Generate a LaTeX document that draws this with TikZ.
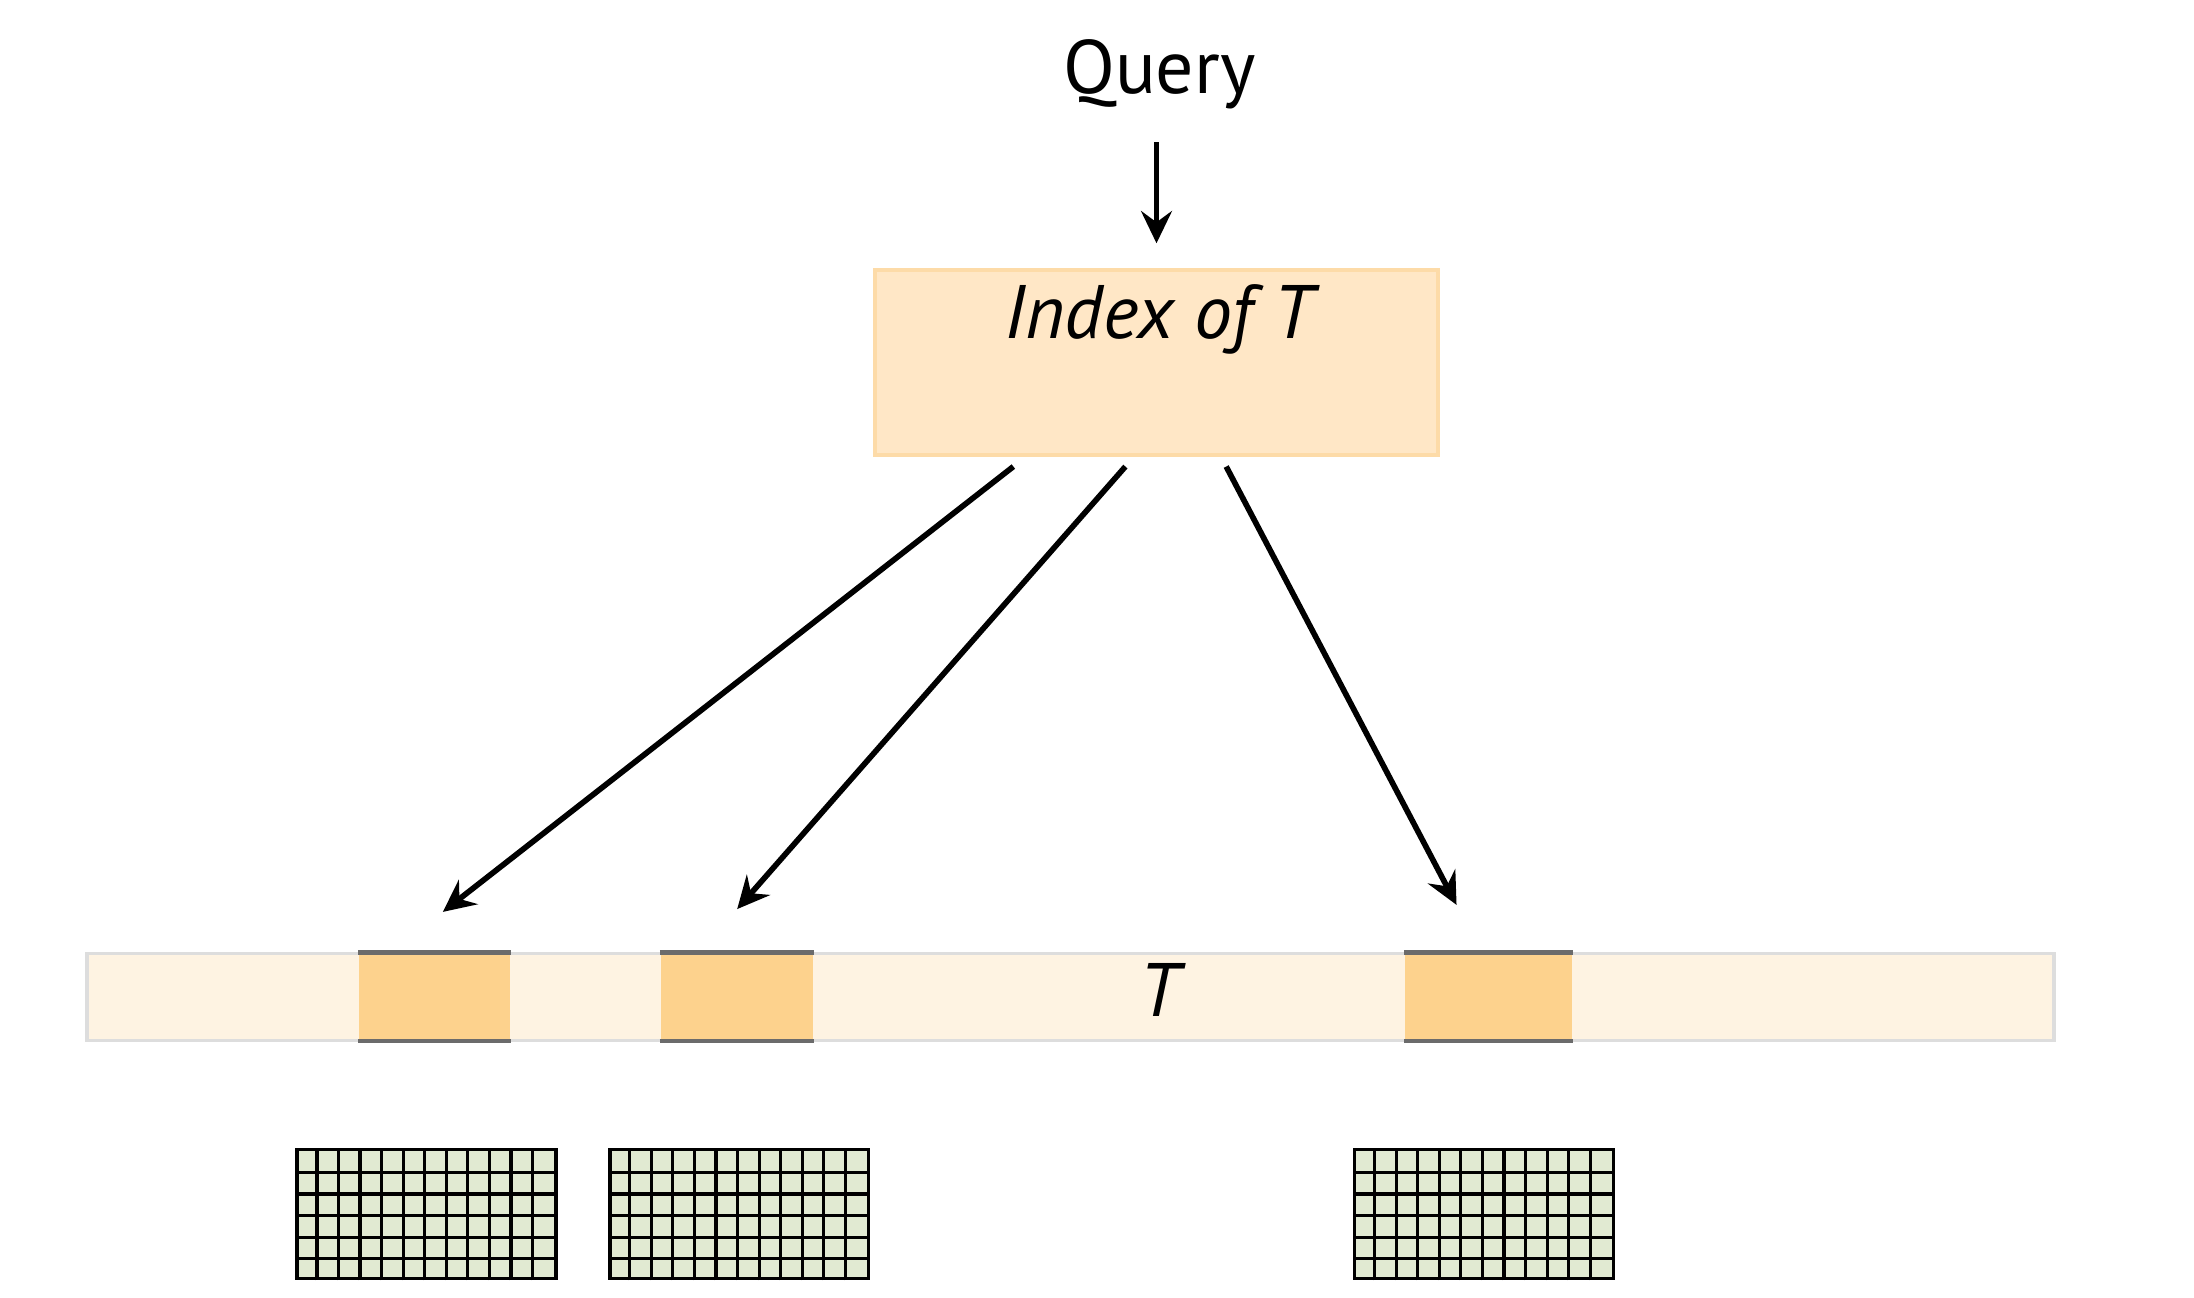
\documentclass[tikz,border=0pt]{standalone}
\usepackage{fontspec}
\setmainfont{PT Sans}
\usepackage{xcolor}
\usetikzlibrary{positioning, calc, arrows.meta}

\definecolor{idxfill}{HTML}{FFE7C6}
\definecolor{idxdraw}{HTML}{FDDBA8}
\definecolor{barfill}{HTML}{FEF3E2}
\definecolor{bardraw}{HTML}{DDDDDD}
\definecolor{hitfill}{HTML}{FDD28D}
\definecolor{hitedge}{HTML}{6B6B6B}
\definecolor{cellfill}{HTML}{E1EAD2}

\tikzset{
    arr/.style = {-{Stealth[length = 0.23cm, width = 0.22cm, inset = 0.08cm]},
        line width = 1.15pt},
    lbl/.style = {font = \fontsize{15.4}{18}\selectfont, inner sep = 0},
    idxbox/.style = {draw = idxdraw, fill = idxfill, line width = 0.7pt,
        minimum width = 4.02cm, minimum height = 1.32cm, inner sep = 0},
    tbar/.style = {draw = bardraw, fill = barfill, line width = 0.7pt,
        minimum width = 14.05cm, minimum height = 0.62cm, inner sep = 0},
    hitbox/.style = {fill = hitfill, minimum height = 0.6cm, inner sep = 0},
    hitline/.style = {draw = hitedge, line width = 0.9pt},
    gridbox/.style = {draw, fill = cellfill, line width = 0.7pt,
        minimum width = 1.848cm, minimum height = 0.924cm, inner sep = 0},
    cellline/.style = {line width = 0.65pt}
}

\begin{document}
\begin{tikzpicture}
        \useasboundingbox (0,0) rectangle (15.67,-9.27);
        \node [lbl, anchor = base] (query) at (8.28,-0.667) {Query};
        \node [idxbox] (index) at (8.26,-2.59) {};
        \node [lbl, anchor = base] (indexlabel) at (8.275,-2.42)
        {\itshape Index of T};
        \draw [arr] ($(index.north) + (0,0.9)$) -- ($(index.north) + (0,0.18)$);
        \node [tbar] (T) at (7.645,-7.12) {};
        \node [hitbox, minimum width = 1.074cm] (h1) at (3.103,-7.12) {};
        \node [hitbox, minimum width = 1.09cm] (h2) at (5.265,-7.12) {};
        \node [hitbox, minimum width = 1.194cm] (h3) at (10.633,-7.12) {};
        \foreach \h in {h1, h2, h3} {
            \draw [hitline] ($(\h.north west) + (0,0.01)$) -- ($(\h.north east)
            + (0,0.01)$);
            \draw [hitline] ($(\h.south west) + (0,-0.01)$) -- ($(\h.south east)
            + (0,-0.01)$);
        }
        \node [lbl, anchor = base] (Tlabel) at (8.28,-7.26) {\itshape T};
        \draw [arr] ($(index.south west) + (1.0,-0.07)$) -- ($(h1.north) +
        (0.06,0.3)$);
        \draw [arr] ($(index.south west) + (1.8,-0.07)$) -- ($(h2.north) +
        (0,0.32)$);
        \draw [arr] ($(index.south west) + (2.52,-0.07)$) -- ($(h3.north) +
        (-0.23,0.35)$);
        \node [gridbox] (g1) at (3.046,-8.67) {};
        \node [gridbox] (g2) at (5.28,-8.67) {};
        \node [gridbox] (g3) at (10.60,-8.67) {};
        \foreach \g in {g1, g2, g3} {
            \foreach \i in {1,...,11}
                \draw [cellline] ($(\g.south west) + (\i*0.154,0)$) -- ++ (0,0.924);
            \foreach \j in {1,...,5}
                \draw [cellline] ($(\g.south west) + (0,\j*0.154)$) -- ++ (1.848,0);
        }
    \end{tikzpicture}
\end{document}
